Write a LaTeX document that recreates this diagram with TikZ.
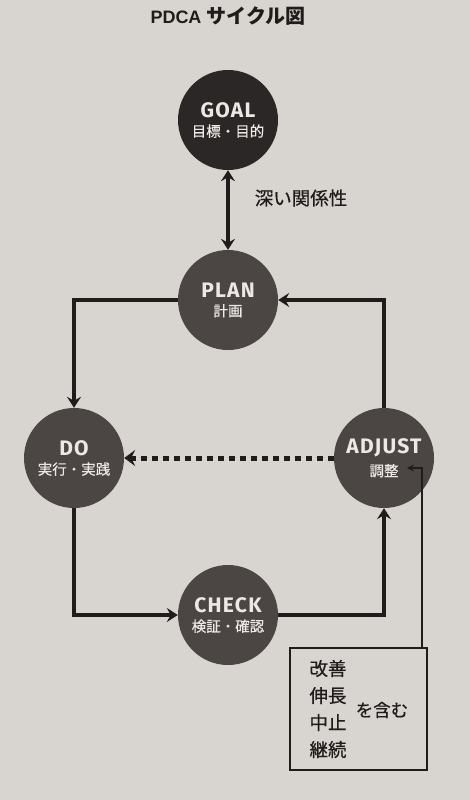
\documentclass[tikz,border=0pt]{standalone}
\usepackage{fontspec}
\setmainfont{Fira Sans}
\newfontfamily\cjk{Noto Sans CJK JP}
\newfontfamily\cjkm[FakeBold=0.6]{Noto Sans CJK JP}
\newfontfamily\circlat[LetterSpace=6]{Fira Sans}
\newfontfamily\titlelat{Liberation Sans}
\usetikzlibrary{arrows.meta}
\definecolor{bg}{HTML}{D8D5D0}
\definecolor{ink}{HTML}{1F1C1B}
\definecolor{goalc}{HTML}{2B2726}
\definecolor{stepc}{HTML}{4B4644}
\definecolor{lbl}{HTML}{ECE8E4}
\newcommand\pdcatext[2]{\vbox{\offinterlineskip\halign{\hfil##\hfil\cr
  \circlat\bfseries\fontsize{21}{21}\selectfont #1\cr
  \noalign{\kern 7pt}
  \cjkm\fontsize{14.5}{14.5}\selectfont #2\cr}}}
\tikzset{
  bigcircle/.style={circle,minimum size=100pt,inner sep=0pt,fill=stepc,text=lbl},
  flowarr/.style={draw=ink,line width=3.8pt,-{Stealth[length=11pt,width=14pt,inset=4pt]}},
  dblarr/.style={draw=ink,line width=3.8pt,{Stealth[length=11pt,width=14pt,inset=4pt]}-{Stealth[length=11pt,width=14pt,inset=4pt]}},
  dotarr/.style={draw=ink,line width=5pt,dash pattern=on 6pt off 5pt,-{Stealth[length=11pt,width=16pt,inset=4pt]}},
  thinarr/.style={draw=ink,line width=1.6pt,-{Stealth[length=7pt,width=7pt,inset=2.5pt]}},
  cjklabel/.style={text=ink,font=\cjkm\fontsize{18.5}{22}\selectfont},
}
\begin{document}
\begin{tikzpicture}[x=1pt,y=-1pt]
\useasboundingbox[fill=bg] (0,0) rectangle (470,800);
\node[text=ink,inner sep=0pt] (title) at (228,16) {\titlelat\bfseries\fontsize{18}{20}\selectfont PDCA\ {\cjk\bfseries\fontsize{20}{20}\selectfont サイクル図}};
\node[bigcircle,fill=goalc] (GOAL) at (228,120) {\pdcatext{GOAL}{目標・目的}};
\node[bigcircle] (PLAN) at (228,300) {\pdcatext{PLAN}{計画}};
\node[bigcircle] (DO) at (74,458) {\pdcatext{DO}{実行・実践}};
\node[bigcircle] (ADJUST) at (384,458) {\pdcatext{ADJUST}{調整}};
\node[bigcircle] (CHECK) at (228,615) {\pdcatext{CHECK}{検証・確認}};
\node[cjklabel] (rel) at (301,198) {深い関係性};
\draw[dblarr] (GOAL) -- (PLAN);
\draw[flowarr] (PLAN.west) -| (DO.north);
\draw[flowarr] (ADJUST.north) |- (PLAN.east);
\draw[flowarr] (DO.south) |- (CHECK.west);
\draw[flowarr] (CHECK.east) -| (ADJUST.south);
\draw[dotarr] (ADJUST.west) -- (DO.east);
\node[draw=ink,line width=1.8pt,minimum width=137pt,minimum height=122pt,inner sep=0pt] (box) at (358.5,709) {};
\node[cjklabel,align=center,font=\cjkm\fontsize{18.5}{27}\selectfont] (kinds) at (328,709) {改善\\伸長\\中止\\継続};
\node[cjklabel,font=\cjkm\fontsize{17.5}{20}\selectfont] (incl) at (382,710) {を含む};
\coordinate (boxtop) at (422,648);
\coordinate (adjtip) at (407,468);
\draw[thinarr] (boxtop) |- (adjtip);
\end{tikzpicture}
\end{document}
